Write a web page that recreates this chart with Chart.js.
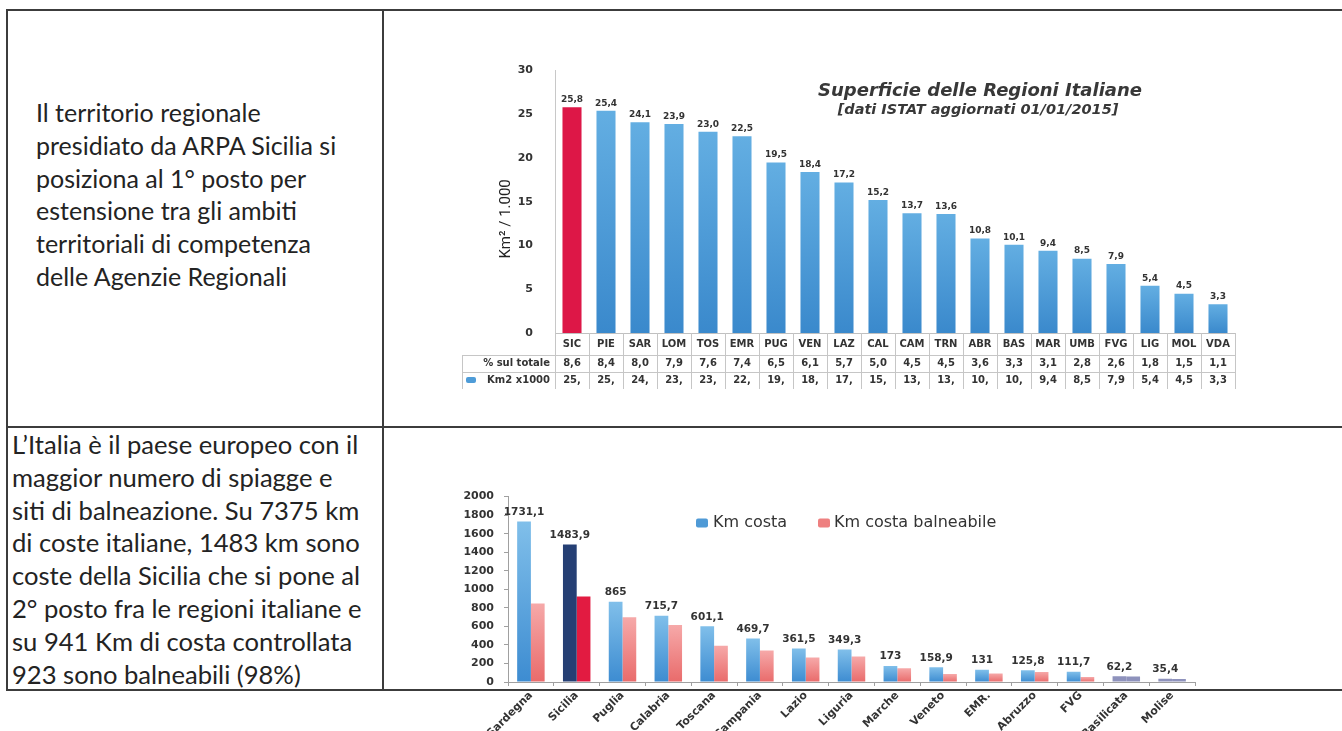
<!DOCTYPE html>
<html lang="it">
<head>
<meta charset="utf-8">
<title>Superficie e coste delle Regioni Italiane</title>
<script src="https://cdn.jsdelivr.net/npm/chart.js@4.4.1/dist/chart.umd.min.js"></script>
<style>
  html, body { margin: 0; padding: 0; background: #fff; }
  body { width: 1342px; height: 731px; position: relative; overflow: hidden; }
  .rule { position: absolute; background: #3c3c3c; }
  .note {
    position: absolute; white-space: nowrap; color: #232323;
    font-family: Lato, "Noto Sans", sans-serif; font-size: 25px; line-height: 32.8px;
  }
  canvas { position: absolute; }
</style>
</head>
<body>
  <!-- table frame -->
  <div class="rule" style="left:6px;top:9px;width:1336px;height:2px"></div>
  <div class="rule" style="left:6px;top:426px;width:1336px;height:2px"></div>
  <div class="rule" style="left:6px;top:689px;width:1336px;height:2px"></div>
  <div class="rule" style="left:6px;top:9px;width:2px;height:682px"></div>
  <div class="rule" style="left:382px;top:9px;width:2px;height:682px"></div>

  <div class="note" style="left:36px;top:96px">Il territorio regionale<br>presidiato da ARPA Sicilia si<br>posiziona al 1° posto per<br>estensione tra gli ambiti<br>territoriali di competenza<br>delle Agenzie Regionali</div>

  <div class="note" style="left:12px;top:428px;font-size:25.6px">L’Italia è il paese europeo con il<br>maggior numero di spiagge e<br>siti di balneazione. Su 7375 km<br>di coste italiane, 1483 km sono<br>coste della Sicilia che si pone al<br>2° posto fra le regioni italiane e<br>su 941 Km di costa controllata<br>923 sono balneabili (98%)</div>

  <canvas id="superficie" width="810" height="350" style="left:440px;top:50px"></canvas>
  <canvas id="coste" width="790" height="251" style="left:430px;top:480px"></canvas>

<script>
// ---- Superficie delle Regioni (km² / 1.000) ----
const regioni = ['SIC','PIE','SAR','LOM','TOS','EMR','PUG','VEN','LAZ','CAL',
                 'CAM','TRN','ABR','BAS','MAR','UMB','FVG','LIG','MOL','VDA'];
const superficie = [25.8, 25.4, 24.1, 23.9, 23.0, 22.5, 19.5, 18.4, 17.2, 15.2,
                    13.7, 13.6, 10.8, 10.1, 9.4, 8.5, 7.9, 5.4, 4.5, 3.3];
const quotaTotale = [8.6, 8.4, 8.0, 7.9, 7.6, 7.4, 6.5, 6.1, 5.7, 5.0,
                     4.5, 4.5, 3.6, 3.3, 3.1, 2.8, 2.6, 1.8, 1.5, 1.1];
const superficieTicks = [0, 5, 10, 15, 20, 25, 30];

// ---- Coste ----
const regioniCosta = ['Sardegna','Sicilia','Puglia','Calabria','Toscana','Campania','Lazio',
                      'Liguria','Marche','Veneto','EMR.','Abruzzo','FVG','Basilicata','Molise'];
const kmCosta = [1731.1, 1483.9, 865, 715.7, 601.1, 469.7, 361.5, 349.3, 173, 158.9,
                 131, 125.8, 111.7, 62.2, 35.4];
const kmBalneabile = [847, 923, 698, 614, 392, 339, 265, 275, 148, 85,
                      92, 109, 53, 58, 33];
const costaTicks = [0, 200, 400, 600, 800, 1000, 1200, 1400, 1600, 1800, 2000];

const TXT = '#333333';
const FONT = '"DejaVu Sans", Verdana, sans-serif';
Chart.defaults.font.family = FONT;
Chart.defaults.color = TXT;

const unDecimale = v => v.toFixed(1).replace('.', ',');
const virgola = v => Number.isInteger(v) ? String(v) : unDecimale(v);
// the narrow table cells only show the integer part of two-digit values
const cellaStretta = v => v >= 10 ? Math.floor(v) + ',' : unDecimale(v);

// gradient spanning a single bar, from its top to the baseline
function barGradient(ctx, top, bottom) {
  const chart = ctx.chart;
  const ys = chart.scales.y;
  if (!chart.chartArea || !ys) return bottom;
  const v = ctx.raw;
  const y0 = ys.getPixelForValue(0), y1 = ys.getPixelForValue(v);
  if (!isFinite(y0) || !isFinite(y1) || y0 === y1) return bottom;
  const g = chart.ctx.createLinearGradient(0, y1, 0, y0);
  g.addColorStop(0, top);
  g.addColorStop(1, bottom);
  return g;
}

const fixedTicks = list => function (scale) {
  scale.ticks = list.map(v => ({ value: v }));
};

// ------------------------------------------------------------------
// Chart 1: bars + data table underneath
// ------------------------------------------------------------------
const tabellaPlugin = {
  id: 'tabella',
  afterDraw(chart) {
    const { ctx, chartArea: a, scales: { x } } = chart;
    const n = regioni.length;
    const w = (a.right - a.left) / n;
    const r1 = a.bottom + 22, r2 = a.bottom + 39, r3 = a.bottom + 56;
    const hx = a.left - 93;
    ctx.save();

    // grid of the table
    ctx.strokeStyle = '#c6c6c6';
    ctx.lineWidth = 1;
    ctx.beginPath();
    for (let i = 0; i <= n; i++) {
      const px = Math.round(a.left + i * w) + 0.5;
      ctx.moveTo(px, a.bottom); ctx.lineTo(px, r3);
    }
    ctx.moveTo(hx + 0.5, r1); ctx.lineTo(hx + 0.5, r3);
    ctx.moveTo(hx, r1 + 0.5); ctx.lineTo(a.right, r1 + 0.5);
    ctx.moveTo(hx, r2 + 0.5); ctx.lineTo(a.right, r2 + 0.5);
    ctx.stroke();

    // row headers
    ctx.fillStyle = TXT;
    ctx.font = 'bold 10px ' + FONT;
    ctx.textBaseline = 'middle';
    ctx.textAlign = 'right';
    ctx.fillText('% sul totale', a.left - 5, r1 + 8);
    ctx.fillText('Km2 x1000', a.left - 5, r2 + 8);
    // series marker
    ctx.fillStyle = '#4e9cd8';
    ctx.beginPath();
    ctx.roundRect(hx + 4, r2 + 5, 10, 6, 2);
    ctx.fill();

    // row values
    ctx.fillStyle = TXT;
    ctx.textAlign = 'center';
    for (let i = 0; i < n; i++) {
      const cx = x.getPixelForValue(i);
      ctx.fillText(unDecimale(quotaTotale[i]), cx, r1 + 8);
      ctx.fillText(cellaStretta(superficie[i]), cx, r2 + 8);
    }

    // value labels on top of the bars
    ctx.font = 'bold 9px ' + FONT;
    ctx.textBaseline = 'bottom';
    chart.getDatasetMeta(0).data.forEach((bar, i) => {
      ctx.fillText(unDecimale(superficie[i]), bar.x, bar.y - 3);
    });

    // title
    ctx.fillStyle = '#383838';
    ctx.textBaseline = 'middle';
    ctx.font = 'italic bold 18px ' + FONT;
    ctx.fillText('Superficie delle Regioni Italiane', 540, 41);
    ctx.font = 'italic bold 14.5px ' + FONT;
    ctx.fillText('[dati ISTAT aggiornati 01/01/2015]', 538, 60);

    // y-axis title
    ctx.translate(a.left - 49, (a.top + a.bottom) / 2 + 17);
    ctx.rotate(-Math.PI / 2);
    ctx.fillStyle = '#222';
    ctx.font = '15px "Liberation Sans Narrow", Roboto, sans-serif';
    ctx.fillText('Km² / 1.000', 0, 0);
    ctx.restore();
  }
};

new Chart(document.getElementById('superficie'), {
  type: 'bar',
  data: {
    labels: regioni,
    datasets: [{
      label: 'Km2 x1000',
      data: superficie,
      backgroundColor: ctx => ctx.dataIndex === 0
        ? '#dd1747'
        : barGradient(ctx, '#63aee2', '#3a89cc'),
      borderWidth: 0,
      barPercentage: 0.56,
      categoryPercentage: 1
    }]
  },
  options: {
    responsive: false,
    animation: false,
    layout: { padding: { top: 13, right: 15, left: 0, bottom: 0 } },
    plugins: { legend: { display: false }, tooltip: { enabled: false } },
    scales: {
      x: {
        grid: { display: false, drawTicks: false, tickLength: 0 },
        border: { display: true, color: '#c0c0c0' },
        ticks: { font: { size: 10, weight: 'bold' }, color: TXT, padding: 5, maxRotation: 0, autoSkip: false },
        afterFit: s => { s.height = 67; }
      },
      y: {
        min: 0, max: 30,
        afterBuildTicks: fixedTicks(superficieTicks),
        grid: { display: false },
        border: { display: true, color: '#c8c8c8' },
        ticks: { font: { size: 11, weight: 'bold' }, color: TXT, padding: 14, callback: v => String(v) },
        afterFit: s => { s.width = 115; }
      }
    }
  },
  plugins: [tabellaPlugin]
});

// ------------------------------------------------------------------
// Chart 2: km of coast and bathing coast per region
// ------------------------------------------------------------------
const SICILIA = 1;
const grigi = [13, 14];

const costePlugin = {
  id: 'coste',
  afterDraw(chart) {
    const { ctx, chartArea: a } = chart;
    ctx.save();
    // values above the coast bars
    ctx.fillStyle = TXT;
    ctx.font = 'bold 10.5px ' + FONT;
    ctx.textAlign = 'center';
    ctx.textBaseline = 'bottom';
    chart.getDatasetMeta(0).data.forEach((bar, i) => {
      ctx.fillText(virgola(kmCosta[i]), bar.x, bar.y - 4);
    });

    // legend
    const lx = a.left + 188, ly = a.top + 26;
    ctx.font = '16px ' + FONT;
    ctx.textAlign = 'left';
    ctx.textBaseline = 'middle';
    ctx.fillStyle = '#4f9ad6';
    ctx.beginPath(); ctx.roundRect(lx, ly - 4, 12, 9, 2); ctx.fill();
    ctx.fillStyle = TXT;
    ctx.fillText('Km costa', lx + 17, ly);
    const lx2 = lx + 122;
    ctx.fillStyle = '#ee8080';
    ctx.beginPath(); ctx.roundRect(lx2, ly - 4, 12, 9, 2); ctx.fill();
    ctx.fillStyle = TXT;
    ctx.fillText('Km costa balneabile', lx2 + 16, ly);
    ctx.restore();
  }
};

new Chart(document.getElementById('coste'), {
  type: 'bar',
  data: {
    labels: regioniCosta,
    datasets: [{
      label: 'Km costa',
      data: kmCosta,
      backgroundColor: ctx => ctx.dataIndex === SICILIA ? '#253f74'
        : grigi.includes(ctx.dataIndex) ? '#8e92bc'
        : barGradient(ctx, '#80bfea', '#3d8cd1'),
      borderWidth: 0,
      barPercentage: 1,
      categoryPercentage: 0.6
    }, {
      label: 'Km costa balneabile',
      data: kmBalneabile,
      backgroundColor: ctx => ctx.dataIndex === SICILIA ? '#e21b41'
        : grigi.includes(ctx.dataIndex) ? '#8e92bc'
        : barGradient(ctx, '#f6a9a9', '#e96b6b'),
      borderWidth: 0,
      barPercentage: 1,
      categoryPercentage: 0.6
    }]
  },
  options: {
    responsive: false,
    animation: false,
    layout: { padding: { top: 13, right: 25, left: 0, bottom: 0 } },
    plugins: { legend: { display: false }, tooltip: { enabled: false } },
    scales: {
      x: {
        grid: { display: true, drawOnChartArea: false, tickLength: 4, color: '#a0a0a0' },
        border: { display: true, color: '#a0a0a0' },
        ticks: { font: { size: 11, weight: 'bold' }, color: TXT, padding: 3,
                 minRotation: 45, maxRotation: 45, autoSkip: false },
        afterFit: s => { s.height = 49; }
      },
      y: {
        min: 0, max: 2000,
        afterBuildTicks: fixedTicks(costaTicks),
        grid: { display: true, drawOnChartArea: false, tickLength: 4, color: '#a0a0a0' },
        border: { display: true, color: '#a0a0a0' },
        ticks: { font: { size: 11, weight: 'bold' }, color: TXT, padding: 10, callback: v => String(v) },
        afterFit: s => { s.width = 78; }
      }
    }
  },
  plugins: [costePlugin]
});
</script>
</body>
</html>
